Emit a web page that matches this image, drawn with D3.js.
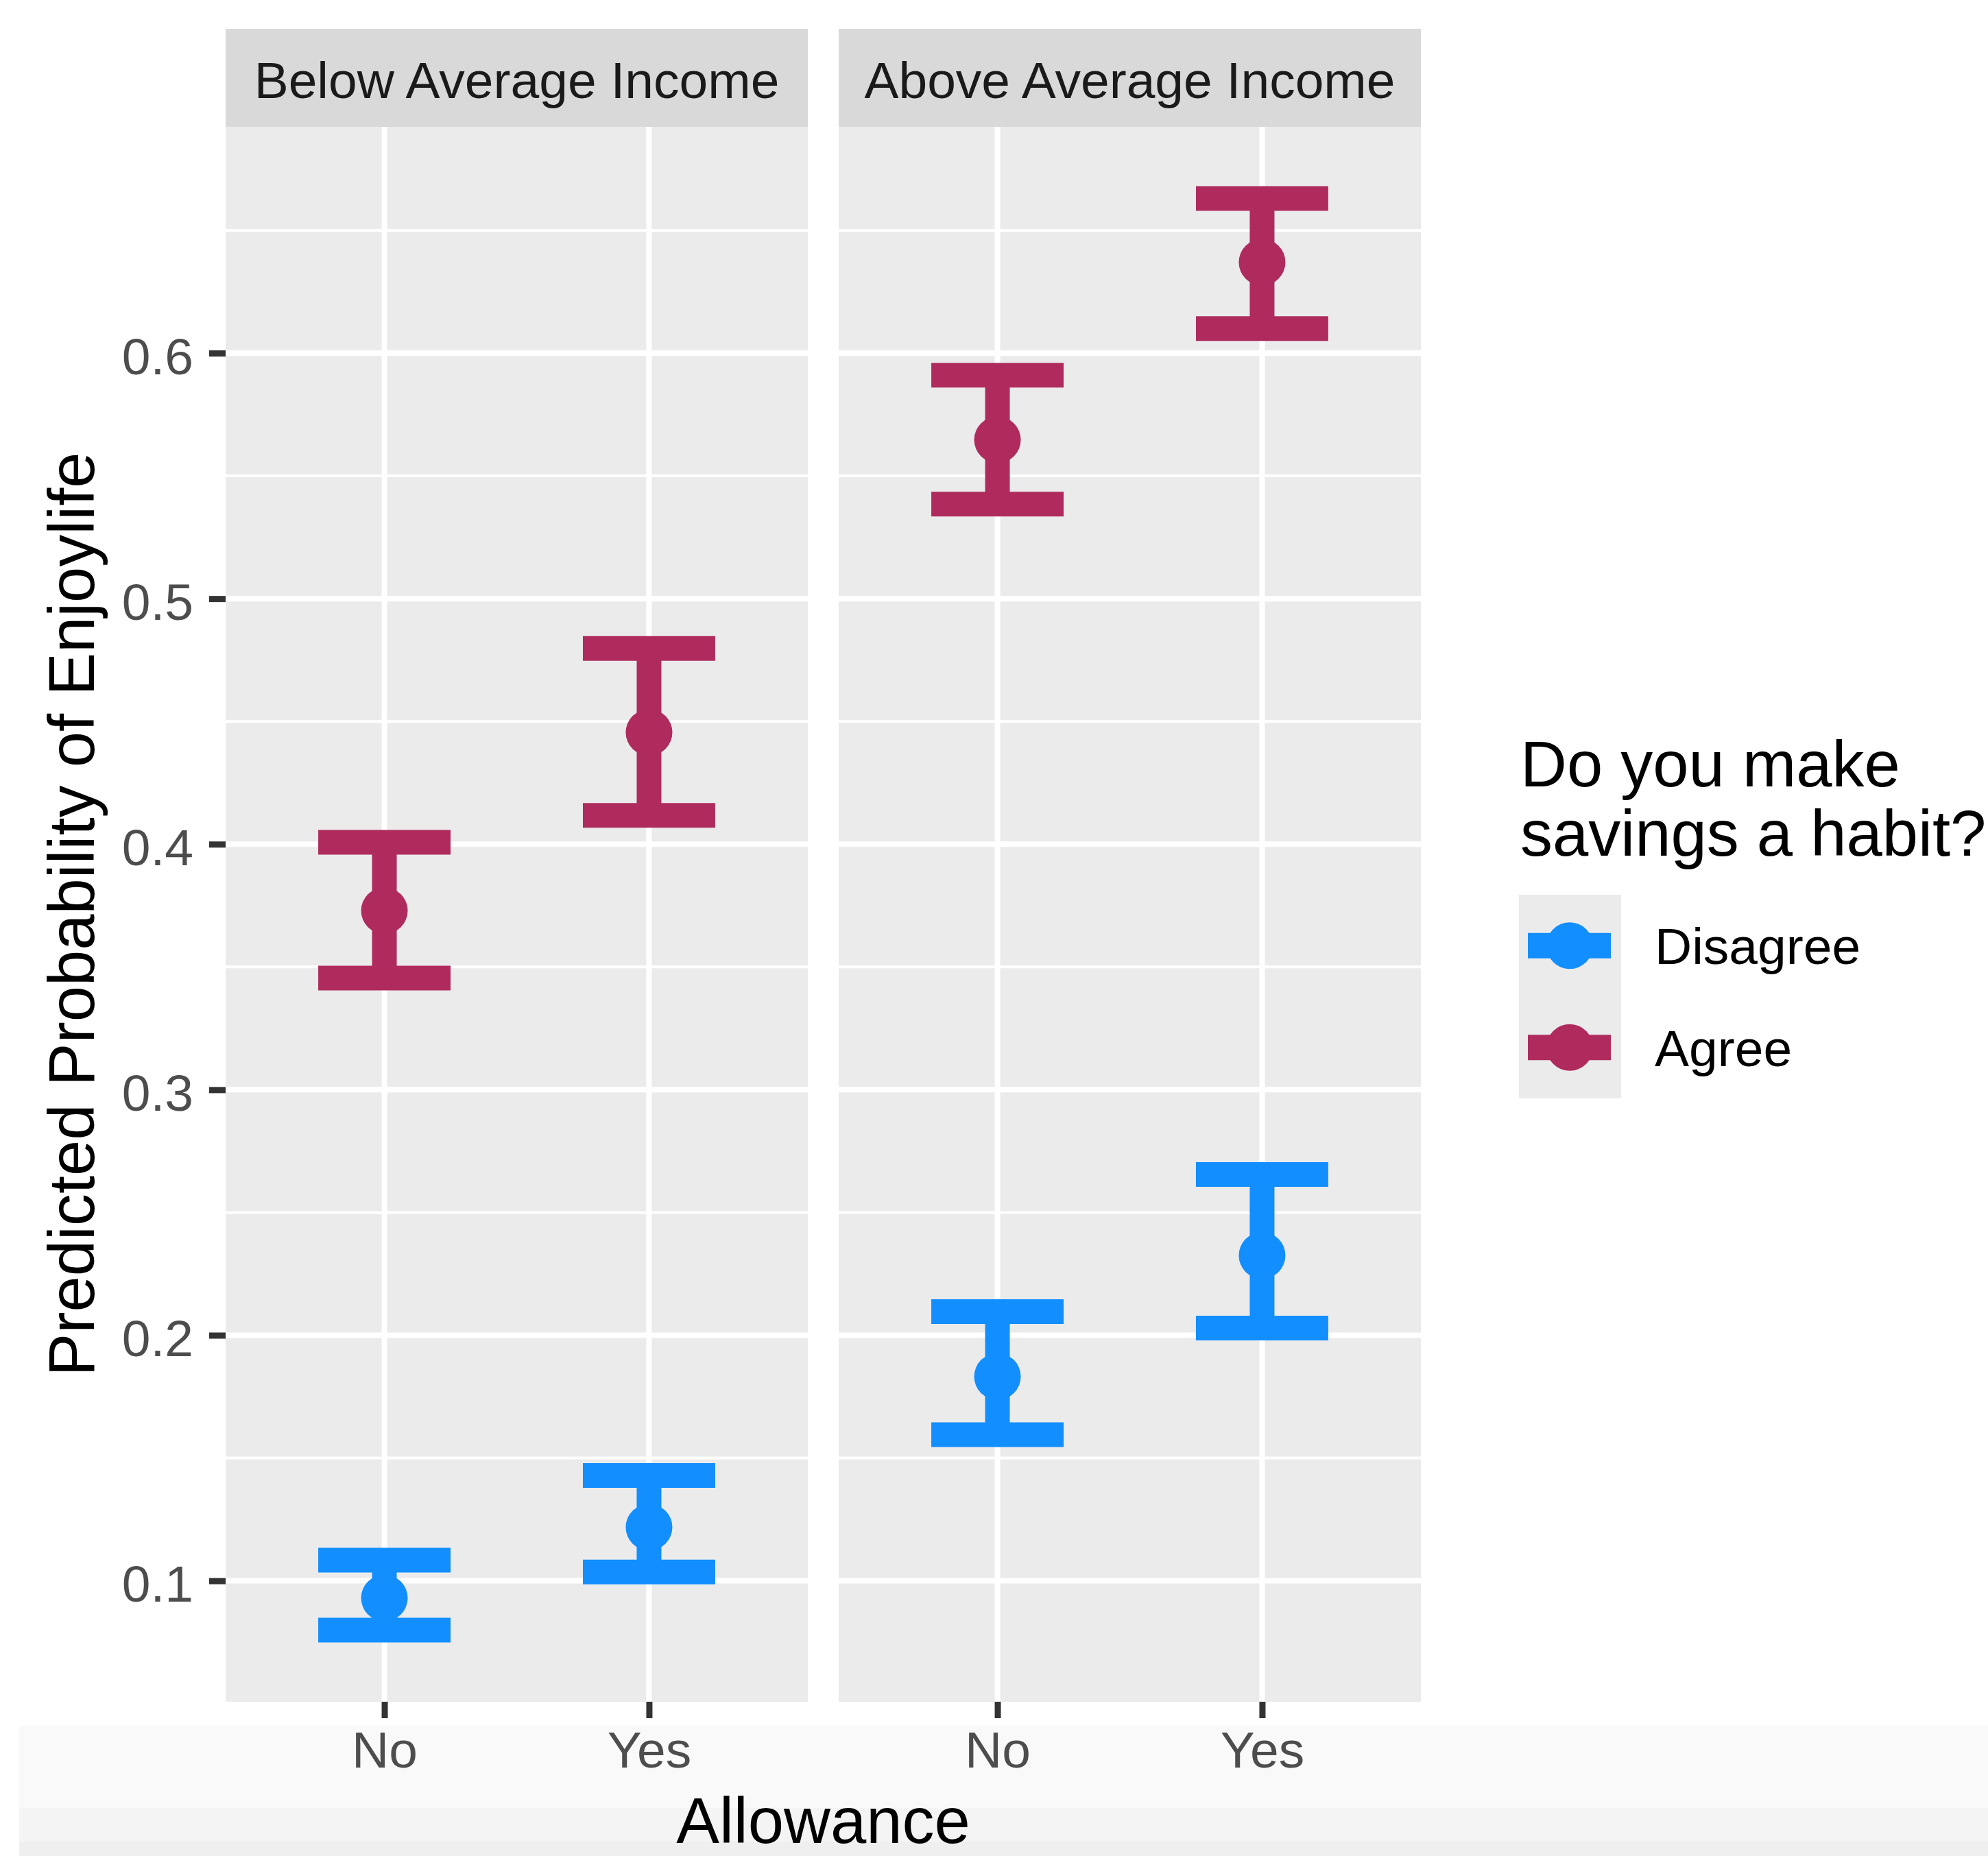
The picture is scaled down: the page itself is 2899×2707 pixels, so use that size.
<!DOCTYPE html>
<html>
<head>
<meta charset="utf-8">
<script src="https://cdn.jsdelivr.net/npm/d3@7"></script>
<style>
  html, body { margin: 0; padding: 0; background: #ffffff; }
  svg { display: block; }
  text { font-family: "Liberation Sans", Arial, Helvetica, sans-serif; }
</style>
</head>
<body>
<svg id="chart" width="2899" height="2707"></svg>
<script>
// Facets, x categories and colour groups
const incomeGroups = ["Below Average Income", "Above Average Income"];
const allowanceLevels = ["No", "Yes"];
const habitLevels = ["Disagree", "Agree"];
const habitColors = ["#128EFF", "#AF2B5E"];

// Predicted probabilities, ordered [Below/No, Below/Yes, Above/No, Above/Yes]
const disagreeFit   = [0.0930, 0.1218, 0.1832, 0.2325];
const disagreeLower = [0.0799, 0.1036, 0.1595, 0.2029];
const disagreeUpper = [0.1084, 0.1429, 0.2096, 0.2655];
const agreeFit      = [0.3729, 0.4455, 0.5647, 0.6370];
const agreeLower    = [0.3455, 0.4117, 0.5385, 0.6100];
const agreeUpper    = [0.4008, 0.4797, 0.5910, 0.6630];

const yTicks = [0.1, 0.2, 0.3, 0.4, 0.5, 0.6];
const yMinor = [0.15, 0.25, 0.35, 0.45, 0.55, 0.65];

// Long-form rows built from the arrays above
const rows = [];
[[disagreeFit, disagreeLower, disagreeUpper], [agreeFit, agreeLower, agreeUpper]].forEach((s, hi) => {
  s[0].forEach((v, i) => {
    rows.push({
      income: incomeGroups[Math.floor(i / 2)],
      allowance: allowanceLevels[i % 2],
      habit: habitLevels[hi],
      fit: v, lower: s[1][i], upper: s[2][i]
    });
  });
});

const svg = d3.select("#chart");

// faint band along the bottom of the canvas
const bands = [[2517, 120, "#F9F9F9"], [2637, 49, "#F4F4F4"], [2686, 21, "#EFEFEF"]];
svg.selectAll("rect.band").data(bands).enter().append("rect")
  .attr("class", "band")
  .attr("x", 28).attr("y", d => d[0]).attr("width", 2899 - 28).attr("height", d => d[1])
  .attr("fill", d => d[2]);

// layout
const panelTop = 185, panelBottom = 2482;
const stripTop = 42;
const panelX = [329, 1223];
const panelW = 849;

// y scale: data range with 5% expansion
const yLo = d3.min(rows, d => d.lower), yHi = d3.max(rows, d => d.upper);
const pad = (yHi - yLo) * 0.05;
const y = d3.scaleLinear().domain([yLo - pad, yHi + pad]).range([panelBottom, panelTop]);

// discrete x with 0.6 expansion each side
const xUnit = d3.scaleLinear().domain([0.4, 2.6]).range([0, panelW]);
const xPos = a => xUnit(allowanceLevels.indexOf(a) + 1);
const halfCap = xUnit(1.25) - xUnit(1);

const color = d3.scaleOrdinal().domain(habitLevels).range(habitColors);

incomeGroups.forEach((grp, pi) => {
  const g = svg.append("g").attr("transform", `translate(${panelX[pi]},0)`);

  // strip
  g.append("rect").attr("x", 0).attr("y", stripTop).attr("width", panelW).attr("height", panelTop - stripTop)
    .attr("fill", "#D9D9D9");
  g.append("text").attr("x", panelW / 2).attr("y", 143).attr("text-anchor", "middle")
    .attr("font-size", 75).attr("fill", "#1A1A1A").text(grp);

  // panel background
  g.append("rect").attr("x", 0).attr("y", panelTop).attr("width", panelW).attr("height", panelBottom - panelTop)
    .attr("fill", "#EBEBEB");

  // grid
  g.selectAll("line.minor").data(yMinor).enter().append("line")
    .attr("x1", 0).attr("x2", panelW).attr("y1", d => y(d)).attr("y2", d => y(d))
    .attr("stroke", "#FFFFFF").attr("stroke-width", 4);
  g.selectAll("line.majorY").data(yTicks).enter().append("line")
    .attr("x1", 0).attr("x2", panelW).attr("y1", d => y(d)).attr("y2", d => y(d))
    .attr("stroke", "#FFFFFF").attr("stroke-width", 8);
  g.selectAll("line.majorX").data(allowanceLevels).enter().append("line")
    .attr("x1", d => xPos(d)).attr("x2", d => xPos(d)).attr("y1", panelTop).attr("y2", panelBottom)
    .attr("stroke", "#FFFFFF").attr("stroke-width", 8);

  // error bars
  const sub = rows.filter(r => r.income === grp);
  g.selectAll("path.err").data(sub).enter().append("path")
    .attr("d", d => {
      const cx = xPos(d.allowance), yt = y(d.upper), yb = y(d.lower);
      return `M${cx - halfCap},${yt}H${cx + halfCap}M${cx},${yt}V${yb}M${cx - halfCap},${yb}H${cx + halfCap}`;
    })
    .attr("fill", "none").attr("stroke", d => color(d.habit))
    .attr("stroke-width", 36).attr("stroke-linecap", "butt").attr("stroke-linejoin", "miter");

  // points
  g.selectAll("circle.pt").data(sub).enter().append("circle")
    .attr("cx", d => xPos(d.allowance)).attr("cy", d => y(d.fit)).attr("r", 34)
    .attr("fill", d => color(d.habit));

  // x axis
  const xAxis = d3.axisBottom(d3.scalePoint().domain(allowanceLevels).range([xPos("No"), xPos("Yes")]))
    .tickSize(24).tickPadding(19);
  const ax = g.append("g").attr("transform", `translate(0,${panelBottom})`).call(xAxis);
  ax.select(".domain").remove();
  ax.selectAll(".tick line").attr("stroke", "#333333").attr("stroke-width", 9);
  ax.selectAll(".tick text").attr("font-size", 75).attr("fill", "#4D4D4D")
    .attr("font-family", "Liberation Sans, Arial, sans-serif");
});

// y axis (left panel only)
const yAxis = d3.axisLeft(y).tickValues(yTicks).tickFormat(d3.format(".1f")).tickSize(24).tickPadding(23);
const ay = svg.append("g").attr("transform", `translate(${panelX[0]},0)`).call(yAxis);
ay.select(".domain").remove();
ay.selectAll(".tick line").attr("stroke", "#333333").attr("stroke-width", 9);
ay.selectAll(".tick text").attr("font-size", 75).attr("fill", "#4D4D4D").attr("dy", "0.4em")
  .attr("font-family", "Liberation Sans, Arial, sans-serif");

// axis titles
svg.append("text").attr("x", (panelX[0] + panelX[1] + panelW) / 2).attr("y", 2688)
  .attr("text-anchor", "middle").attr("font-size", 94).attr("fill", "#000000").text("Allowance");
svg.append("text")
  .attr("transform", `translate(137,${(panelTop + panelBottom) / 2}) rotate(-90)`)
  .attr("text-anchor", "middle").attr("font-size", 94).attr("fill", "#000000")
  .text("Predicted Probability of Enjoylife");

// legend
const lg = svg.append("g");
const legendTitle = ["Do you make", "savings a habit?"];
lg.selectAll("text.title").data(legendTitle).enter().append("text")
  .attr("x", 2217).attr("y", (d, i) => 1147 + i * 101)
  .attr("font-size", 94).attr("fill", "#000000").text(d => d);

const keyTop = 1305, keyH = 148.5, keyX = 2215, keyW = 149;
lg.append("rect").attr("x", keyX).attr("y", keyTop).attr("width", keyW).attr("height", keyH * habitLevels.length)
  .attr("fill", "#EBEBEB");
const keys = lg.selectAll("g.key").data(habitLevels).enter().append("g")
  .attr("transform", (d, i) => `translate(0,${keyTop + keyH * i + keyH / 2})`);
keys.append("line").attr("x1", keyX + 13).attr("x2", keyX + keyW - 15).attr("y1", 0).attr("y2", 0)
  .attr("stroke", d => color(d)).attr("stroke-width", 37);
keys.append("circle").attr("cx", keyX + 74).attr("cy", 0).attr("r", 34).attr("fill", d => color(d));
keys.append("text").attr("x", 2413).attr("y", 27).attr("font-size", 75).attr("fill", "#000000").text(d => d);
</script>
</body>
</html>
